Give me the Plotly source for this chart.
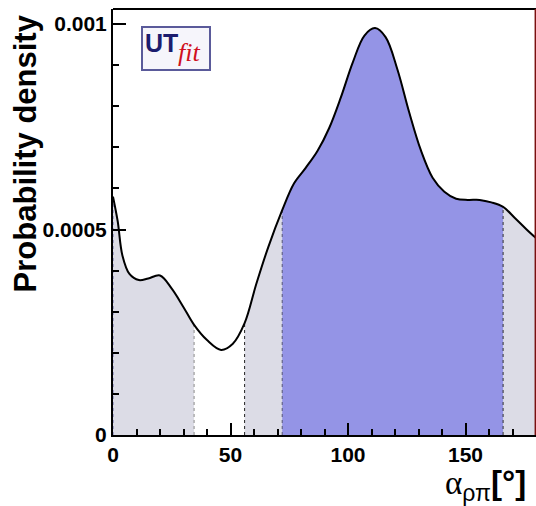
import plotly.graph_objects as go

# Curve of the probability density (alpha_rho_pi in degrees)
alpha = [0, 2, 4, 7, 11, 15, 20, 25, 30, 34.5, 40, 46, 51, 56, 61, 66, 72, 77, 82, 87,
         92, 97, 102, 107, 111.5, 116, 121, 126, 131, 136, 141, 146, 151, 156, 161,
         166, 171, 176, 180]
density = [0.000580, 0.000520, 0.000437, 0.000392, 0.000377, 0.000381, 0.000388,
           0.000356, 0.000311, 0.000268, 0.000231, 0.000207, 0.000222, 0.000272,
           0.000368, 0.000456, 0.000547, 0.000612, 0.000650, 0.000691, 0.000747,
           0.000822, 0.000906, 0.000972, 0.000990, 0.000968, 0.000890, 0.000786,
           0.000693, 0.000626, 0.000592, 0.000575, 0.000572, 0.000572, 0.000566,
           0.000555, 0.000528, 0.000500, 0.000479]

# Interval boundaries (degrees)
bounds_95 = [(0, 34.5), (56, 180)]
bounds_68 = [(72, 166)]
boundary_lines = [0, 34.5, 56, 72, 166]
boundary_colors = ["#6a6aaa", "#8a8a8a", "#222222", "#555577", "#333333"]

y_ticks = [0, 0.0005, 0.001]
y_tick_text = ["0", "0.0005", "0.001"]
x_ticks = [0, 50, 100, 150]
x_tick_text = ["0", "50", "100", "150"]

GRAY = "#dcdce6"
BLUE = "#9494e6"
FONT = "Liberation Sans, Arial, sans-serif"


def subset(lo, hi):
    xs, ys = [], []
    for a, d in zip(alpha, density):
        if lo <= a <= hi:
            xs.append(a)
            ys.append(d)
    return xs, ys


fig = go.Figure()

for lo, hi in bounds_95:
    xs, ys = subset(lo, hi)
    fig.add_trace(go.Scatter(x=xs, y=ys, mode="lines", line=dict(width=0.5, color=GRAY, shape="spline"),
                             fill="tozeroy", fillcolor=GRAY, hoverinfo="skip"))
for lo, hi in bounds_68:
    xs, ys = subset(lo, hi)
    fig.add_trace(go.Scatter(x=xs, y=ys, mode="lines", line=dict(width=0.5, color=BLUE, shape="spline"),
                             fill="tozeroy", fillcolor=BLUE, hoverinfo="skip"))

for b, c in zip(boundary_lines, boundary_colors):
    d = density[alpha.index(b)]
    fig.add_trace(go.Scatter(x=[b, b], y=[0, d], mode="lines",
                             line=dict(color=c, width=1, dash="dot"), hoverinfo="skip"))

fig.add_trace(go.Scatter(x=alpha, y=density, mode="lines",
                         line=dict(color="black", width=2, shape="spline")))

fig.update_layout(
    width=536, height=506,
    margin=dict(l=113, r=0, t=9, b=71),
    plot_bgcolor="white", paper_bgcolor="white",
    showlegend=False,
    font=dict(family=FONT, color="black"),
)

fig.update_xaxes(
    range=[0, 180], showgrid=False, zeroline=False,
    showline=True, linecolor="black", linewidth=2,
    ticks="inside", ticklen=12, tickwidth=2, tickcolor="black",
    tickvals=x_ticks, ticktext=x_tick_text,
    tickfont=dict(size=21, weight="bold"),
    minor=dict(dtick=10, ticks="inside", ticklen=6, tickwidth=1.5, tickcolor="black"),
)
fig.update_yaxes(
    range=[0, 0.0010365], showgrid=False, zeroline=False,
    showline=True, linecolor="black", linewidth=2,
    ticks="inside", ticklen=13, tickwidth=2, tickcolor="black",
    tickvals=y_ticks, ticktext=y_tick_text,
    tickfont=dict(size=21, weight="bold"),
    minor=dict(dtick=0.0001, ticks="inside", ticklen=6, tickwidth=1.5, tickcolor="black"),
)

# frame top/right
fig.add_shape(type="line", xref="paper", yref="paper", x0=0, x1=1, y0=1, y1=1,
              line=dict(color="black", width=2))
fig.add_shape(type="line", xref="paper", yref="paper", x0=0.999, x1=0.999, y0=0, y1=1,
              line=dict(color="#7a1010", width=2))

# Y axis title
fig.add_annotation(text="<b>Probability density</b>", xref="paper", yref="paper",
                   x=(25 - 113) / 423, y=0.661, textangle=-90, showarrow=False,
                   font=dict(size=31, family=FONT),
                   xanchor="center", yanchor="middle")

# X axis title
fig.add_annotation(
    text="<span style='font-family:Liberation Serif'>α</span><sub>ρπ</sub><b>[°]</b>",
    xref="paper", yref="paper", x=(528 - 113) / 423, y=(435 - 508) / 426, showarrow=False,
    xanchor="right", yanchor="bottom",
    font=dict(size=33, family=FONT))

# UTfit logo
fig.add_shape(type="rect", xref="paper", yref="paper",
              x0=(142 - 113) / 423, x1=(210 - 113) / 423,
              y0=(435 - 70) / 426, y1=(435 - 27) / 426,
              line=dict(color="#5a5a9a", width=2), fillcolor="#f6f5fb")
fig.add_annotation(text="<b>UT</b>", xref="paper", yref="paper",
                   x=(143 - 113) / 423, y=(435 - 43) / 426, showarrow=False,
                   xanchor="left", yanchor="middle",
                   font=dict(size=25, color="#1c1c6e", family=FONT))
fig.add_annotation(text="<i>fit</i>", xref="paper", yref="paper",
                   x=(176 - 113) / 423, y=(435 - 52) / 426, showarrow=False,
                   xanchor="left", yanchor="middle",
                   font=dict(size=26, color="#d01020", family="Liberation Serif, Times New Roman, serif"))

fig.write_html("out.html")
